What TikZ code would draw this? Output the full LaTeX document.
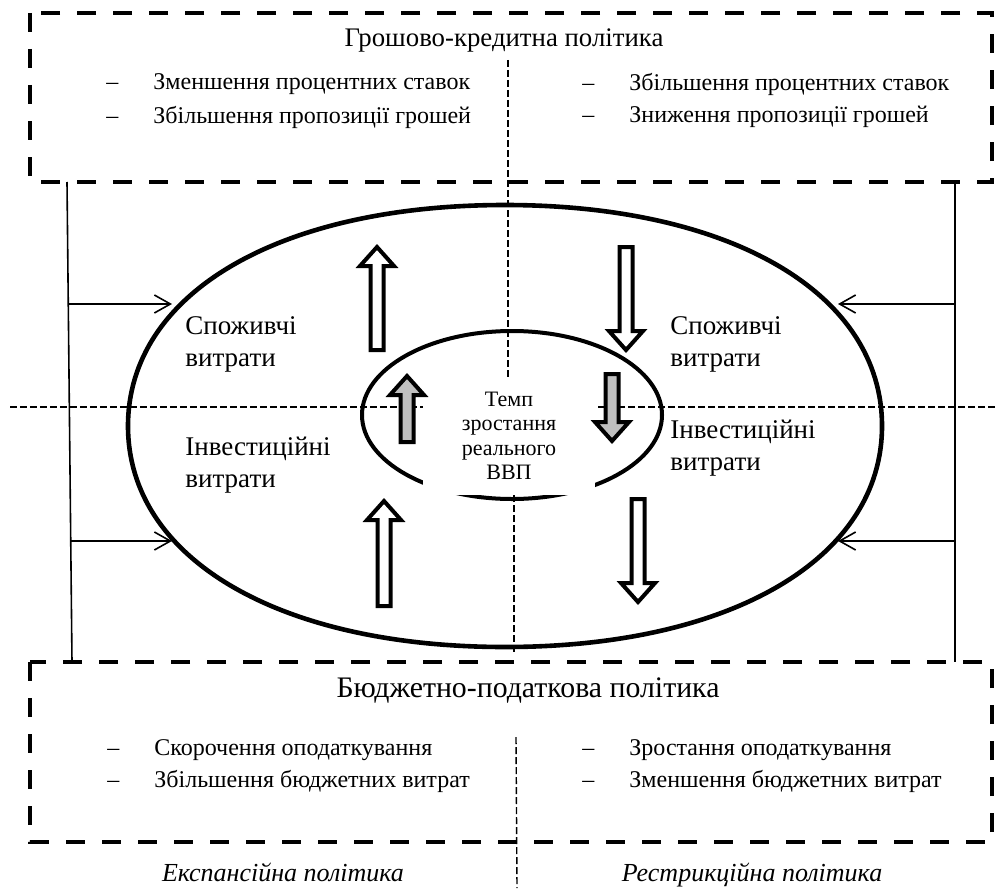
\documentclass[tikz,border=0pt]{standalone}
\usepackage{fontspec}
\setmainfont{Liberation Serif}
\usetikzlibrary{math,arrows.meta}

\newcommand{\itm}[1]{\makebox[23.5pt][l]{–}#1}
\newcommand{\blockarrow}[4]{%
  \tikzmath{\sg = (#3-#2)/abs(#3-#2); \hb = #3-19*\sg;}
  \draw[blockarr, fill=#4] (#1-6.5,#2) -- (#1-6.5,\hb) -- (#1-17,\hb) -- (#1,#3)
    -- (#1+17,\hb) -- (#1+6.5,\hb) -- (#1+6.5,#2) -- cycle;
}

\begin{document}
\begin{tikzpicture}[x=0.5pt, y=-0.5pt,
  bigbox/.style={line width=2.2pt, dash pattern=on 9.5pt off 8.5pt},
  axis/.style={line width=0.7pt, dash pattern=on 3.5pt off 1.5pt},
  ring/.style={line width=2.3pt},
  side/.style={line width=0.8pt},
  feed/.style={line width=0.8pt, -{Straight Barb[length=8pt,width=9pt]}},
  blockarr/.style={line width=2pt, line join=miter},
  title/.style={inner sep=0pt, font=\fontsize{13.4}{16}\selectfont},
  bigtitle/.style={inner sep=0pt, font=\fontsize{14.9}{18}\selectfont},
  item/.style={anchor=west, inner sep=0pt, font=\fontsize{12}{15}\selectfont},
  part/.style={anchor=west, inner sep=0pt, align=left, font=\fontsize{13.5}{16}\selectfont},
  core/.style={fill=white, inner sep=0pt, minimum width=86pt, minimum height=59pt,
    align=center, font=\fontsize{11}{12.2}\selectfont},
  kind/.style={anchor=base, inner sep=0pt, font=\fontsize{13}{16}\itshape}]
  \useasboundingbox (0,0) rectangle (1000,888);
  \tikzmath{\cx = 505; \cy = 426; \rx = 377; \ry = 221; \k = 0.6;}

  \coordinate (mTL) at (30,13);
  \coordinate (mBR) at (992,182);
  \coordinate (fTL) at (30,662);
  \coordinate (fBR) at (992,842);
  \draw[bigbox] (mTL) rectangle (mBR);
  \draw[bigbox] (fTL) rectangle (fBR);

  \node[title] (mtitle) at (504,40) {Грошово-кредитна політика};
  \node[item] (m1) at (106,84) {\itm{Зменшення процентних ставок}};
  \node[item] (m2) at (106,117) {\itm{Збільшення пропозиції грошей}};
  \node[item] (m3) at (582,84) {\itm{Збільшення процентних ставок}};
  \node[item] (m4) at (582,117) {\itm{Зниження пропозиції грошей}};

  \node[bigtitle] (ftitle) at (528,691) {Бюджетно-податкова політика};
  \node[item] (f1) at (107,750) {\itm{Скорочення оподаткування}};
  \node[item] (f2) at (107,781) {\itm{Збільшення бюджетних витрат}};
  \node[item] (f3) at (582,750) {\itm{Зростання оподаткування}};
  \node[item] (f4) at (582,781) {\itm{Зменшення бюджетних витрат}};

  \node[kind] (expan) at (283,881) {Експансійна політика};
  \node[kind] (restr) at (752,881) {Рестрикційна політика};

  \draw[ring] (\cx+\rx,\cy) .. controls (\cx+\rx,\cy-\k*\ry) and (\cx+\k*\rx,\cy-\ry) .. (\cx,\cy-\ry)
    .. controls (\cx-\k*\rx,\cy-\ry) and (\cx-\rx,\cy-\k*\ry) .. (\cx-\rx,\cy)
    .. controls (\cx-\rx,\cy+\k*\ry) and (\cx-\k*\rx,\cy+\ry) .. (\cx,\cy+\ry)
    .. controls (\cx+\k*\rx,\cy+\ry) and (\cx+\rx,\cy+\k*\ry) .. (\cx+\rx,\cy) -- cycle;
  \draw[ring, line width=2pt] (512,415) ellipse [x radius=150, y radius=84];

  \node[core] (gdp) at (509,436) {Темп\\зростання\\реального\\ВВП};

  \coordinate (hL) at (10,407);
  \coordinate (hR) at (995,407);
  \coordinate (vT) at (508,60);
  \coordinate (vM) at (514,655);
  \coordinate (vB) at (516,737);
  \coordinate (vE) at (517,888);
  \draw[axis] (hL) -- (hL -| gdp.west);
  \draw[axis] (hR) -- (hR -| gdp.east);
  \draw[axis] (vT) -- (vT |- gdp.north);
  \draw[axis] (vM |- gdp.south) -- (vM);
  \draw[axis] (vB) -- (vE);

  \node[part] (cl) at (185,344) {Споживчі\\витрати};
  \node[part] (il) at (185,465) {Інвестиційні\\витрати};
  \node[part] (cr) at (670,344) {Споживчі\\витрати};
  \node[part] (ir) at (670,448) {Інвестиційні\\витрати};

  \coordinate (lT) at (67,182);
  \coordinate (lB) at (72,662);
  \coordinate (rT) at (955,182);
  \coordinate (rB) at (955,662);
  \draw[side] (lT) -- (lB);
  \draw[side] (rT) -- (rB);
  \coordinate (la1) at (69,304);
  \coordinate (la2) at (71,541);
  \coordinate (ra1) at (955,304);
  \coordinate (ra2) at (955,541);
  \coordinate (le1) at (172,304);
  \coordinate (le2) at (172,541);
  \coordinate (re1) at (838,304);
  \coordinate (re2) at (838,541);
  \draw[feed] (la1) -- (le1);
  \draw[feed] (la2) -- (le2);
  \draw[feed] (ra1) -- (re1);
  \draw[feed] (ra2) -- (re2);

  \blockarrow{377}{350}{247}{white}
  \blockarrow{626}{247}{350}{white}
  \blockarrow{407}{442}{376}{gray!50}
  \blockarrow{612}{374}{441}{gray!50}
  \blockarrow{384}{606}{501}{white}
  \blockarrow{638}{499}{602}{white}
\end{tikzpicture}
\end{document}
